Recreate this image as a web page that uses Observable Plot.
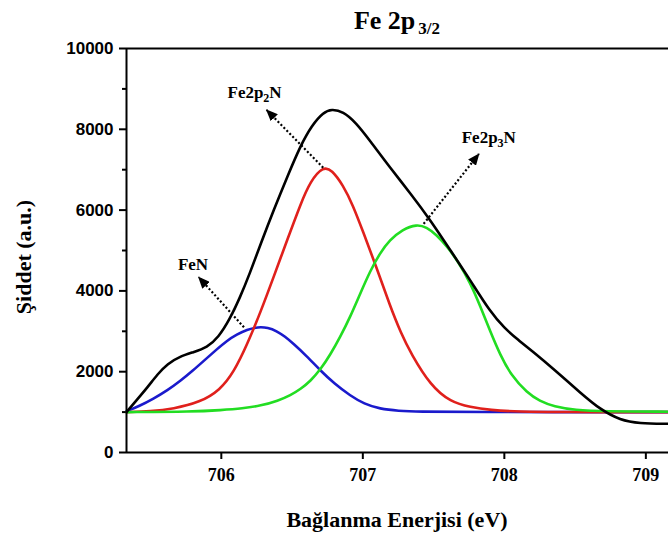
<!DOCTYPE html>
<html><head><meta charset="utf-8">
<script src="https://cdn.jsdelivr.net/npm/d3@7"></script>
<script src="https://cdn.jsdelivr.net/npm/@observablehq/plot@0.6"></script>
<style>html,body{margin:0;padding:0;background:#fff} svg{display:block}</style>
</head><body><div id="chart"></div>
<script>
// ---- data ----
const blackX = [705.33,705.40,705.48,705.55,705.62,705.71,705.80,705.90,705.98,706.06,706.13,706.20,706.28,706.37,706.47,706.56,706.64,706.72,706.78,706.86,706.95,707.05,707.19,707.34,707.48,707.62,707.76,707.90,708.00,708.10,708.20,708.35,708.54,708.68,708.82,708.95,709.16];
const blackY = [1000,1290,1620,1940,2200,2380,2480,2600,2850,3300,3820,4420,5180,6000,6860,7600,8100,8420,8500,8440,8170,7720,7060,6400,5740,5000,4260,3480,3080,2780,2500,2060,1470,1060,800,720,710];

const redX = [705.33,705.50,705.66,705.85,705.99,706.09,706.18,706.28,706.37,706.47,706.56,706.63,706.72,706.78,706.86,706.93,707.00,707.10,707.19,707.27,707.34,707.48,707.62,707.76,707.90,708.10,708.40,709.16];
const redY = [1000,1020,1080,1245,1540,2000,2650,3500,4350,5300,6150,6720,7080,7000,6620,6120,5480,4550,3650,2950,2450,1650,1250,1120,1050,1010,1000,1000];

const blueX = [705.33,705.42,705.52,705.62,705.71,705.80,705.88,705.96,706.04,706.11,706.18,706.26,706.33,706.39,706.45,706.51,706.60,706.70,706.80,706.91,707.01,707.12,707.25,707.40,707.70,709.16];
const blueY = [1020,1150,1330,1540,1770,2030,2280,2530,2770,2920,3040,3110,3090,3010,2870,2690,2400,2030,1700,1410,1200,1080,1030,1010,1000,1000];

const greenX = [705.33,705.80,706.00,706.15,706.28,706.40,706.49,706.56,706.63,706.70,706.77,706.84,706.91,706.98,707.05,707.12,707.19,707.28,707.38,707.45,707.52,707.60,707.67,707.76,707.83,707.90,707.97,708.05,708.16,708.25,708.35,708.50,708.70,709.16];
const greenY = [1000,1010,1050,1090,1160,1280,1420,1570,1770,2050,2420,2860,3350,3920,4480,4930,5260,5520,5650,5580,5390,5080,4740,4200,3620,3000,2420,1900,1480,1270,1140,1050,1015,1010];

const xTicks = [706, 707, 708, 709];
const yTicks = [0, 2000, 4000, 6000, 8000, 10000];
const yMinorTicks = [1000, 3000, 5000, 7000, 9000];

const labelText = ["FeN", "Fe2p2N", "Fe2p3N"];
const labelX = [705.80, 706.235, 707.89];
const labelY = [4650, 8910, 7805];

const arrowX1 = [706.16, 706.72, 707.43];
const arrowY1 = [3100, 7050, 5660];
const arrowX2 = [705.84, 706.32, 707.82];
const arrowY2 = [4340, 8480, 7390];

// ---- build tables ----
const series = (xs, ys) => xs.map((x, i) => ({x, y: ys[i]}));
const black = series(blackX, blackY);
const red = series(redX, redY);
const blue = series(blueX, blueY);
const green = series(greenX, greenY);
const labels = labelText.map((t, i) => ({t, x: labelX[i], y: labelY[i]}));
const arrows = arrowX1.map((x, i) => ({x1: x, y1: arrowY1[i], x2: arrowX2[i], y2: arrowY2[i]}));

const serif = "'Liberation Serif','Times New Roman',serif";
const sans = "'Liberation Sans',Arial,sans-serif";
const crv = "basis";

const plot = Plot.plot({
  width: 668, height: 535,
  marginLeft: 126, marginRight: 0, marginTop: 48, marginBottom: 83,
  x: {domain: [705.33, 709.16]},
  y: {domain: [0, 10000]},
  style: {background: "white", color: "black"},
  marks: [
    Plot.axisY({ticks: yMinorTicks, tickSize: 4, text: null, strokeWidth: 2, label: null}),
    Plot.axisY({ticks: yTicks, tickSize: 7, tickPadding: 6, tickFormat: d3.format("d"),
      fontSize: 17, fontWeight: "bold", fontFamily: sans, strokeWidth: 2, label: null}),
    Plot.axisX({ticks: xTicks, tickSize: 7, tickPadding: 9, tickFormat: d3.format("d"),
      fontSize: 18, fontWeight: "bold", fontFamily: serif, strokeWidth: 2, label: null}),
    Plot.line(blue, {x: "x", y: "y", stroke: "#1a1acc", strokeWidth: 2.6, curve: crv}),
    Plot.line(red, {x: "x", y: "y", stroke: "#e0201c", strokeWidth: 2.6, curve: crv}),
    Plot.line(green, {x: "x", y: "y", stroke: "#22dd22", strokeWidth: 2.6, curve: crv}),
    Plot.line(black, {x: "x", y: "y", stroke: "#000", strokeWidth: 2.6, curve: crv}),
    Plot.link(arrows, {x1: "x1", y1: "y1", x2: "x2", y2: "y2", stroke: "#000", strokeWidth: 2.2, strokeDasharray: "2,2.2"}),
    Plot.text(labels, {x: "x", y: "y", text: "t", fontSize: 17, fontWeight: "bold", fontFamily: serif, textAnchor: "middle", fill: "#000"}),
    Plot.ruleX([705.33], {strokeWidth: 2}),
    Plot.ruleY([0, 10000], {strokeWidth: 2})
  ]
});

const svg = d3.select(plot);
// arrowheads
const defs = svg.append("defs");
defs.append("marker").attr("id", "ahead")
  .attr("viewBox", "0 0 12 10").attr("refX", 11).attr("refY", 5)
  .attr("markerWidth", 12).attr("markerHeight", 10)
  .attr("markerUnits", "userSpaceOnUse").attr("orient", "auto")
  .append("path").attr("d", "M0,0 L12,5 L0,10 Z").attr("fill", "#000");
svg.selectAll("g[aria-label='link'] path").attr("marker-end", "url(#ahead)");

// subscripts in annotation labels
svg.selectAll("g[aria-label='text'] text").each(function() {
  const t = d3.select(this);
  const s = t.text();
  const m = s.match(/^(Fe2p)(\d)(N)$/);
  if (m) {
    t.text(null);
    t.append("tspan").text(m[1]);
    t.append("tspan").attr("dy", 4).attr("font-size", 12).text(m[2]);
    t.append("tspan").attr("dy", -4).text(m[3]);
  }
});

// title
const title = svg.append("text").attr("x", 397).attr("y", 29).attr("text-anchor", "middle")
  .attr("font-family", serif).attr("font-weight", "bold").attr("font-size", 26).attr("fill", "#000");
title.append("tspan").text("Fe 2p");
title.append("tspan").attr("dx", 3).attr("dy", 5).attr("font-size", 17).text("3/2");

// axis titles
svg.append("text").attr("transform", "translate(31,257) rotate(-90)").attr("text-anchor", "middle")
  .attr("font-family", serif).attr("font-weight", "bold").attr("font-size", 22).attr("fill", "#000")
  .text("Şiddet (a.u.)");
svg.append("text").attr("x", 397).attr("y", 527).attr("text-anchor", "middle")
  .attr("font-family", serif).attr("font-weight", "bold").attr("font-size", 22).attr("fill", "#000")
  .text("Bağlanma Enerjisi (eV)");

document.getElementById("chart").appendChild(plot);
</script>
</body></html>
